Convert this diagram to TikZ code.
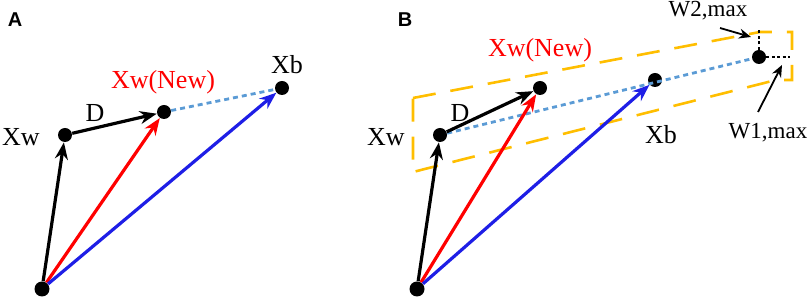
\documentclass[tikz,border=0pt]{standalone}
\usepackage{fontspec}
\setmainfont{Liberation Serif}
\newfontfamily\panelfont{Liberation Sans}
\usetikzlibrary{arrows.meta}
\definecolor{vecblue}{RGB}{30, 30, 230}
\definecolor{linkblue}{RGB}{91, 155, 213}
\definecolor{boxgold}{RGB}{255, 190, 0}

\begin{document}
\begin{tikzpicture}[x=0.5pt, y=-0.5pt]
            \tikzstyle{dot} = [circle, fill=black, inner sep=0pt, minimum size=7pt]
            \tikzstyle{arrow} = [line width=1.6pt, -{Stealth[length=8.5pt, width=6.5pt]}]
            \tikzstyle{link} = [line width=1.4pt, linkblue, dash pattern=on 2.5pt off 2pt]
            \tikzstyle{lbl} = [font=\fontsize{13}{15}\selectfont, inner sep=0pt]
            \tikzstyle{wlbl} = [font=\fontsize{11.5}{13}\selectfont, inner sep=0pt]
            \tikzstyle{panel} = [font=\panelfont\bfseries\fontsize{10}{11}\selectfont, inner sep=0pt]
            \useasboundingbox (0,0) rectangle (809,298);

            % panel A
            \node[panel] (pa) at (15,20) {A};
            \node[dot, minimum size=7.5pt] (oA) at (42,289) {};
            \node[dot] (xwA) at (65,135) {};
            \node[dot] (xnA) at (164,112) {};
            \node[dot] (xbA) at (282,88) {};
            \node[lbl] (lxwA) at (21,137) {Xw};
            \node[lbl] (ldA) at (95,113) {D};
            \node[lbl, red] (lxnA) at (163,82) {Xw(New)};
            \node[lbl] (lxbA) at (287,65) {Xb};

            \draw[link] (xnA) -- (xbA);
            \draw[arrow] (oA) -- (xwA);
            \draw[arrow] (xwA) -- (xnA);
            \draw[arrow, red] (oA) -- (xnA);
            \draw[arrow, vecblue] (oA) -- (xbA);

            % panel B
            \node[panel] (pb) at (405,20) {B};
            \draw[boxgold, line width=1.3pt, dash pattern=on 11.5pt off 7.5pt]
                (413,98) -- (760,32) -- (792,32) -- (792,80) -- (776,80) -- (413,172) -- cycle;
            \node[dot, minimum size=7.5pt] (oB) at (417,289) {};
            \node[dot] (xwB) at (440,135) {};
            \node[dot] (xnB) at (540,88) {};
            \node[dot] (xbB) at (655,80) {};
            \node[dot] (xmB) at (759,57) {};
            \node[lbl] (lxwB) at (386,137) {Xw};
            \node[lbl] (ldB) at (460,113) {D};
            \node[lbl, red] (lxnB) at (540,50) {Xw(New)};
            \node[lbl] (lxbB) at (661,135) {Xb};
            \node[wlbl] (lw2) at (708,11) {W2,max};
            \node[wlbl] (lw1) at (768,133) {W1,max};
            \coordinate (w2top) at (759,28);
            \coordinate (w1right) at (790,57);
            \coordinate (w2from) at (720,28);
            \coordinate (w2to) at (751,37);
            \coordinate (w1from) at (758,112);
            \coordinate (w1to) at (782,65);

            \draw[link] (xwB) -- (xmB);
            \draw[line width=0.6pt, dash pattern=on 1.5pt off 1.2pt] (xmB) -- (w2top);
            \draw[line width=0.6pt, dash pattern=on 1.5pt off 1.2pt] (xmB) -- (w1right);
            \draw[line width=0.9pt, -{Stealth[length=6pt, width=5pt]}] (w2from) -- (w2to);
            \draw[line width=0.9pt, -{Stealth[length=6pt, width=5pt]}] (w1from) -- (w1to);
            \draw[arrow] (oB) -- (xwB);
            \draw[arrow] (xwB) -- (xnB);
            \draw[arrow, red] (oB) -- (xnB);
            \draw[arrow, vecblue] (oB) -- (xbB);
        \end{tikzpicture}
\end{document}
